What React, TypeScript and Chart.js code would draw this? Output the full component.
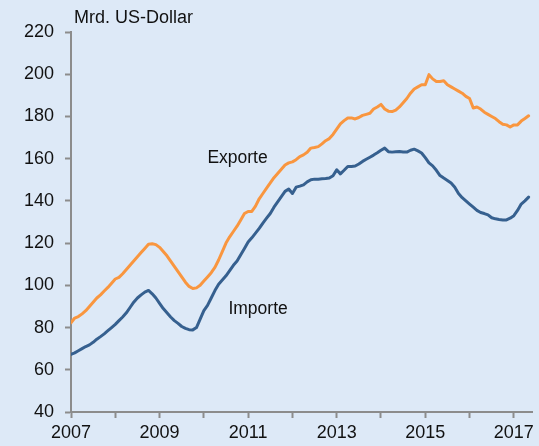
import { useEffect, useRef } from "react";
import { Chart, registerables } from "chart.js";

Chart.register(...registerables);

const startYear = 2007;

// Monthly values, Jan 2007 – May 2017 (Mrd. US-Dollar)
const exporte = [
  82.3, 84.5, 85.2, 86.5, 88.0, 90.0, 92.0, 94.0, 95.5, 97.3, 99.0, 101.0,
  103.0, 103.8, 105.5, 107.5, 109.5, 111.5, 113.5, 115.5, 117.5, 119.5, 119.7, 119.3,
  118.0, 116.0, 114.0, 111.5, 109.0, 106.5, 104.0, 101.5, 99.5, 98.5, 98.8, 100.0,
  102.0, 104.0, 106.0, 108.5, 112.0, 116.0, 120.0, 123.0, 125.5, 128.0, 131.0, 134.0,
  135.0, 135.0, 137.5, 141.0, 143.5, 146.0, 148.5, 151.0, 153.0, 155.0, 157.0, 158.0,
  158.5, 159.5, 161.0, 161.8, 163.0, 165.0, 165.3, 165.7, 167.0, 168.5, 169.5, 171.5,
  174.0, 176.5, 178.0, 179.3, 179.3, 178.8, 179.5, 180.5, 181.0, 181.5, 183.5, 184.5,
  185.7, 183.5, 182.5, 182.3, 183.0, 184.5, 186.5, 188.5, 191.0, 193.0, 194.0, 195.0,
  195.0, 199.8, 197.8, 196.6, 196.6, 196.9, 195.0, 194.0, 193.0, 192.0, 191.0, 189.5,
  188.5, 184.0, 184.5, 183.5, 182.0, 181.0, 180.0, 179.0, 177.5, 176.3, 176.0, 175.0,
  176.0, 176.0, 177.8, 179.0, 180.3,
];

const importe = [
  67.3, 68.0, 69.0, 70.0, 71.0, 71.8, 73.0, 74.5, 75.7, 77.0, 78.5, 80.0,
  81.5, 83.3, 85.0, 87.0, 89.5, 92.0, 94.0, 95.5, 96.8, 97.6, 96.0, 94.0,
  91.5, 89.0, 87.0, 85.0, 83.3, 82.0, 80.5, 79.6, 79.0, 78.9, 80.0, 84.0,
  88.0, 90.5, 94.0, 97.5, 100.5, 102.5, 104.5, 107.0, 109.5, 111.5, 114.5, 117.5,
  120.5, 122.5, 124.7, 127.0, 129.5, 131.8, 134.0, 137.0, 139.5, 142.0, 144.5, 145.6,
  143.5, 146.5, 147.0, 147.6, 149.0, 150.0, 150.3, 150.3, 150.5, 150.6, 150.8, 151.9,
  154.7, 152.8, 154.5, 156.3, 156.3, 156.5, 157.5, 158.7, 159.7, 160.7, 161.7, 162.8,
  164.0, 165.0, 163.3, 163.1, 163.3, 163.4, 163.2, 163.1, 164.0, 164.5, 163.7, 162.7,
  160.5, 158.0, 156.6, 154.5, 152.0, 150.8, 149.7, 148.5, 146.5, 143.5, 141.5, 140.0,
  138.5, 137.0, 135.5, 134.5, 134.0, 133.4, 132.0, 131.5, 131.2, 131.0, 131.0, 131.8,
  133.0, 135.5, 138.5, 140.0, 141.8,
];

const yTickValues = [40, 60, 80, 100, 120, 140, 160, 180, 200, 220];
const xTickYears = [2007, 2008, 2009, 2010, 2011, 2012, 2013, 2014, 2015, 2016, 2017];
const xLabelYears = [2007, 2009, 2011, 2013, 2015, 2017];
const unitLabel = "Mrd. US-Dollar";
const seriesNames = ["Exporte", "Importe"];

const BG = "#dde9f7";
const AXIS = "#8c8c8c";
const TEXT = "#111111";
const ORANGE = "#f9963f";
const BLUE = "#36608f";
const FONT = "'Liberation Sans', Arial, sans-serif";
const NARROW = "'Liberation Sans Narrow', 'Arial Narrow', 'Liberation Sans', sans-serif";

const toPoints = (arr: number[]) =>
  arr.map((v, i) => ({ x: startYear + i / 12, y: v }));

export default function App() {
  const ref = useRef<HTMLCanvasElement | null>(null);

  useEffect(() => {
    if (!ref.current) return;
    const bgPlugin = {
      id: "bg",
      beforeDraw(chart: any) {
        const { ctx, width, height } = chart;
        ctx.save();
        ctx.fillStyle = BG;
        ctx.fillRect(0, 0, width, height);
        ctx.restore();
      },
    };
    const labelPlugin = {
      id: "labels",
      afterDraw(chart: any) {
        const { ctx, chartArea } = chart;
        const xs = chart.scales.x;
        const ys = chart.scales.y;
        ctx.save();
        ctx.fillStyle = TEXT;
        ctx.textBaseline = "alphabetic";
        ctx.textAlign = "left";
        ctx.font = `18px ${FONT}`;
        ctx.fillText(unitLabel, chartArea.left + 3, 23);
        ctx.font = `17.5px ${FONT}`;
        ctx.fillText(seriesNames[0], xs.getPixelForValue(2010.08), ys.getPixelForValue(157.9));
        ctx.fillText(seriesNames[1], xs.getPixelForValue(2010.555), ys.getPixelForValue(86.5));
        ctx.restore();
      },
    };

    const chart = new Chart(ref.current, {
      type: "line",
      data: {
        datasets: [
          {
            label: seriesNames[0],
            data: toPoints(exporte),
            borderColor: ORANGE,
            borderWidth: 3,
            pointRadius: 0,
            tension: 0,
            borderJoinStyle: "round",
            borderCapStyle: "round",
          },
          {
            label: seriesNames[1],
            data: toPoints(importe),
            borderColor: BLUE,
            borderWidth: 3,
            pointRadius: 0,
            tension: 0,
            borderJoinStyle: "round",
            borderCapStyle: "round",
          },
        ],
      },
      options: {
        animation: false,
        responsive: false,
        maintainAspectRatio: false,
        events: [],
        layout: { padding: { left: 0, top: 32, right: 7, bottom: 0 } },
        plugins: {
          legend: { display: false },
          tooltip: { enabled: false },
          title: { display: false },
        },
        scales: {
          x: {
            type: "linear",
            min: 2007,
            max: 2017.41,
            afterFit(scale: any) {
              scale.height = 34;
            },
            afterBuildTicks(scale: any) {
              scale.ticks = xTickYears.map((v) => ({ value: v }));
            },
            grid: {
              drawOnChartArea: false,
              drawTicks: true,
              tickLength: 6,
              tickWidth: 2,
              color: AXIS,
            },
            border: { display: true, color: AXIS, width: 2 },
            ticks: {
              autoSkip: false,
              maxRotation: 0,
              padding: 4,
              color: TEXT,
              font: { family: NARROW, size: 18 },
              callback: (v: any) => (xLabelYears.includes(Number(v)) ? String(v) : ""),
            },
          },
          y: {
            min: 40,
            max: 220,
            afterFit(scale: any) {
              scale.width = 71;
            },
            afterBuildTicks(scale: any) {
              scale.ticks = yTickValues.map((v) => ({ value: v }));
            },
            grid: {
              drawOnChartArea: false,
              drawTicks: true,
              tickLength: 6,
              tickWidth: 2,
              color: AXIS,
            },
            border: { display: true, color: AXIS, width: 2 },
            ticks: {
              padding: 11,
              color: TEXT,
              font: { family: FONT, size: 18 },
            },
          },
        },
      } as any,
      plugins: [bgPlugin, labelPlugin],
    });
    return () => chart.destroy();
  }, []);

  return (
    <div style={{ position: "absolute", left: 0, top: 0, width: 539, height: 446, background: BG }}>
      <canvas ref={ref} width={539} height={446} style={{ display: "block" }} />
    </div>
  );
}
